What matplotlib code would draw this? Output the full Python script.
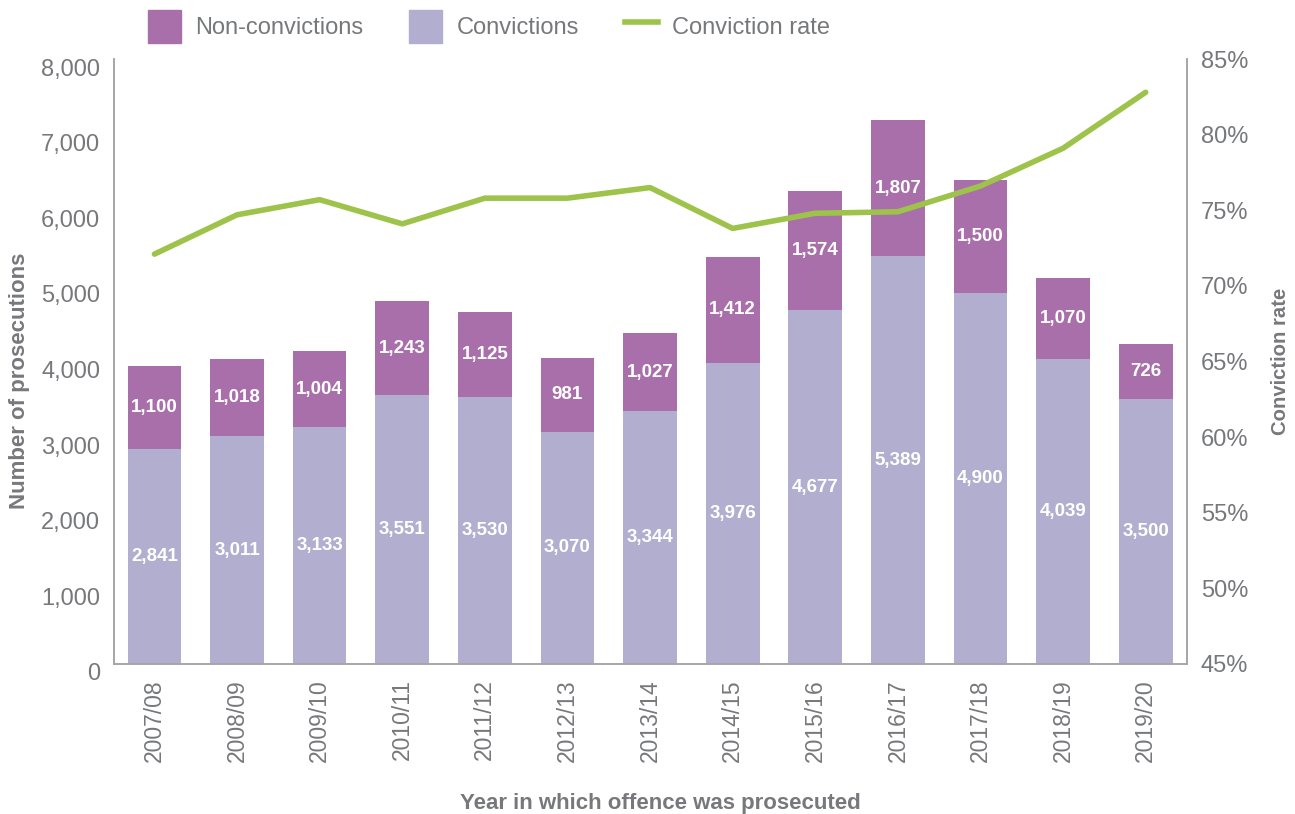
import matplotlib.pyplot as plt
from matplotlib.patches import Patch
from matplotlib.lines import Line2D
from matplotlib.ticker import FuncFormatter
from matplotlib.transforms import ScaledTranslation

years = ['2007/08', '2008/09', '2009/10', '2010/11', '2011/12', '2012/13', '2013/14',
         '2014/15', '2015/16', '2016/17', '2017/18', '2018/19', '2019/20']
convictions = [2841, 3011, 3133, 3551, 3530, 3070, 3344, 3976, 4677, 5389, 4900, 4039, 3500]
non_convictions = [1100, 1018, 1004, 1243, 1125, 981, 1027, 1412, 1574, 1807, 1500, 1070, 726]
conviction_rate = [72.1, 74.7, 75.7, 74.1, 75.8, 75.8, 76.5, 73.8, 74.8, 74.9, 76.6, 79.1, 82.8]

conv_colour = '#b1aecf'
non_colour = '#a96faa'
rate_colour = '#9dc34a'
grey = '#77787b'
spine_grey = '#a6a6a6'

plt.rcParams['font.family'] = ['Liberation Sans', 'DejaVu Sans']

fig = plt.figure(figsize=(12.95, 8.14), dpi=100)
ax = fig.add_axes([0.088, 0.1843, 0.8286, 0.7432])

x = list(range(len(years)))
width = 0.65
ax.bar(x, convictions, width, color=conv_colour)
ax.bar(x, non_convictions, width, bottom=convictions, color=non_colour)

for i in x:
    ax.text(i, convictions[i] / 2, f'{convictions[i]:,}', ha='center', va='center',
            color='white', fontsize=13.5, fontweight='bold')
    ax.text(i, convictions[i] + non_convictions[i] / 2, f'{non_convictions[i]:,}',
            ha='center', va='center', color='white', fontsize=13.5, fontweight='bold')

ax.set_xlim(-0.49, 12.5)
ax.set_ylim(0, 8000)
ax.set_yticks(range(0, 8001, 1000))
ax.yaxis.set_major_formatter(FuncFormatter(lambda v, p: f'{int(v):,}'))
ax.set_xticks(x)
ax.set_xticklabels(years, rotation=90)
ax.tick_params(axis='both', length=0, labelcolor=grey)
ax.tick_params(axis='y', pad=10, labelsize=17)
ax.tick_params(axis='x', pad=11, labelsize=16.5)
ax.set_ylabel('Number of prosecutions', fontsize=16, fontweight='bold', color=grey)
ax.yaxis.set_label_coords(-0.078, 0.468)
ax.set_xlabel('Year in which offence was prosecuted', fontsize=16, fontweight='bold',
              color=grey, labelpad=24)
ax.xaxis.set_label_coords(0.509, -0.2135)

# left tick labels sit a little below their gridline values
shift = ScaledTranslation(0, -8 / 100, fig.dpi_scale_trans)
for lbl in ax.get_yticklabels():
    lbl.set_transform(lbl.get_transform() + shift)

ax2 = ax.twinx()
ax2.plot(x, conviction_rate, color=rate_colour, linewidth=4, solid_capstyle='round')
ax2.set_ylim(45, 85)
ax2.set_yticks(range(45, 86, 5))
ax2.yaxis.set_major_formatter(FuncFormatter(lambda v, p: f'{int(v)}%'))
ax2.tick_params(axis='y', length=0, labelsize=17, labelcolor=grey, pad=10)
ax2.set_ylabel('Conviction rate', fontsize=14.6, fontweight='bold', color=grey, labelpad=16)

for a in (ax, ax2):
    a.spines['top'].set_visible(False)
    for s in ('left', 'right', 'bottom'):
        a.spines[s].set_color(spine_grey)
        a.spines[s].set_linewidth(1.2)

handles = [
    Patch(color=non_colour, label='Non-convictions'),
    Patch(color=conv_colour, label='Convictions'),
    Line2D([0], [0], color=rate_colour, linewidth=4, label='Conviction rate'),
]
leg = fig.legend(handles=handles, loc='upper left', bbox_to_anchor=(148 / 1295, 1 - 10 / 814),
                 ncol=3, frameon=False, fontsize=17, handlelength=1.4, handleheight=1.78,
                 handletextpad=0.6, columnspacing=1.95, borderpad=0, borderaxespad=0)
for t in leg.get_texts():
    t.set_color(grey)

fig.savefig('out.png', dpi=100)
